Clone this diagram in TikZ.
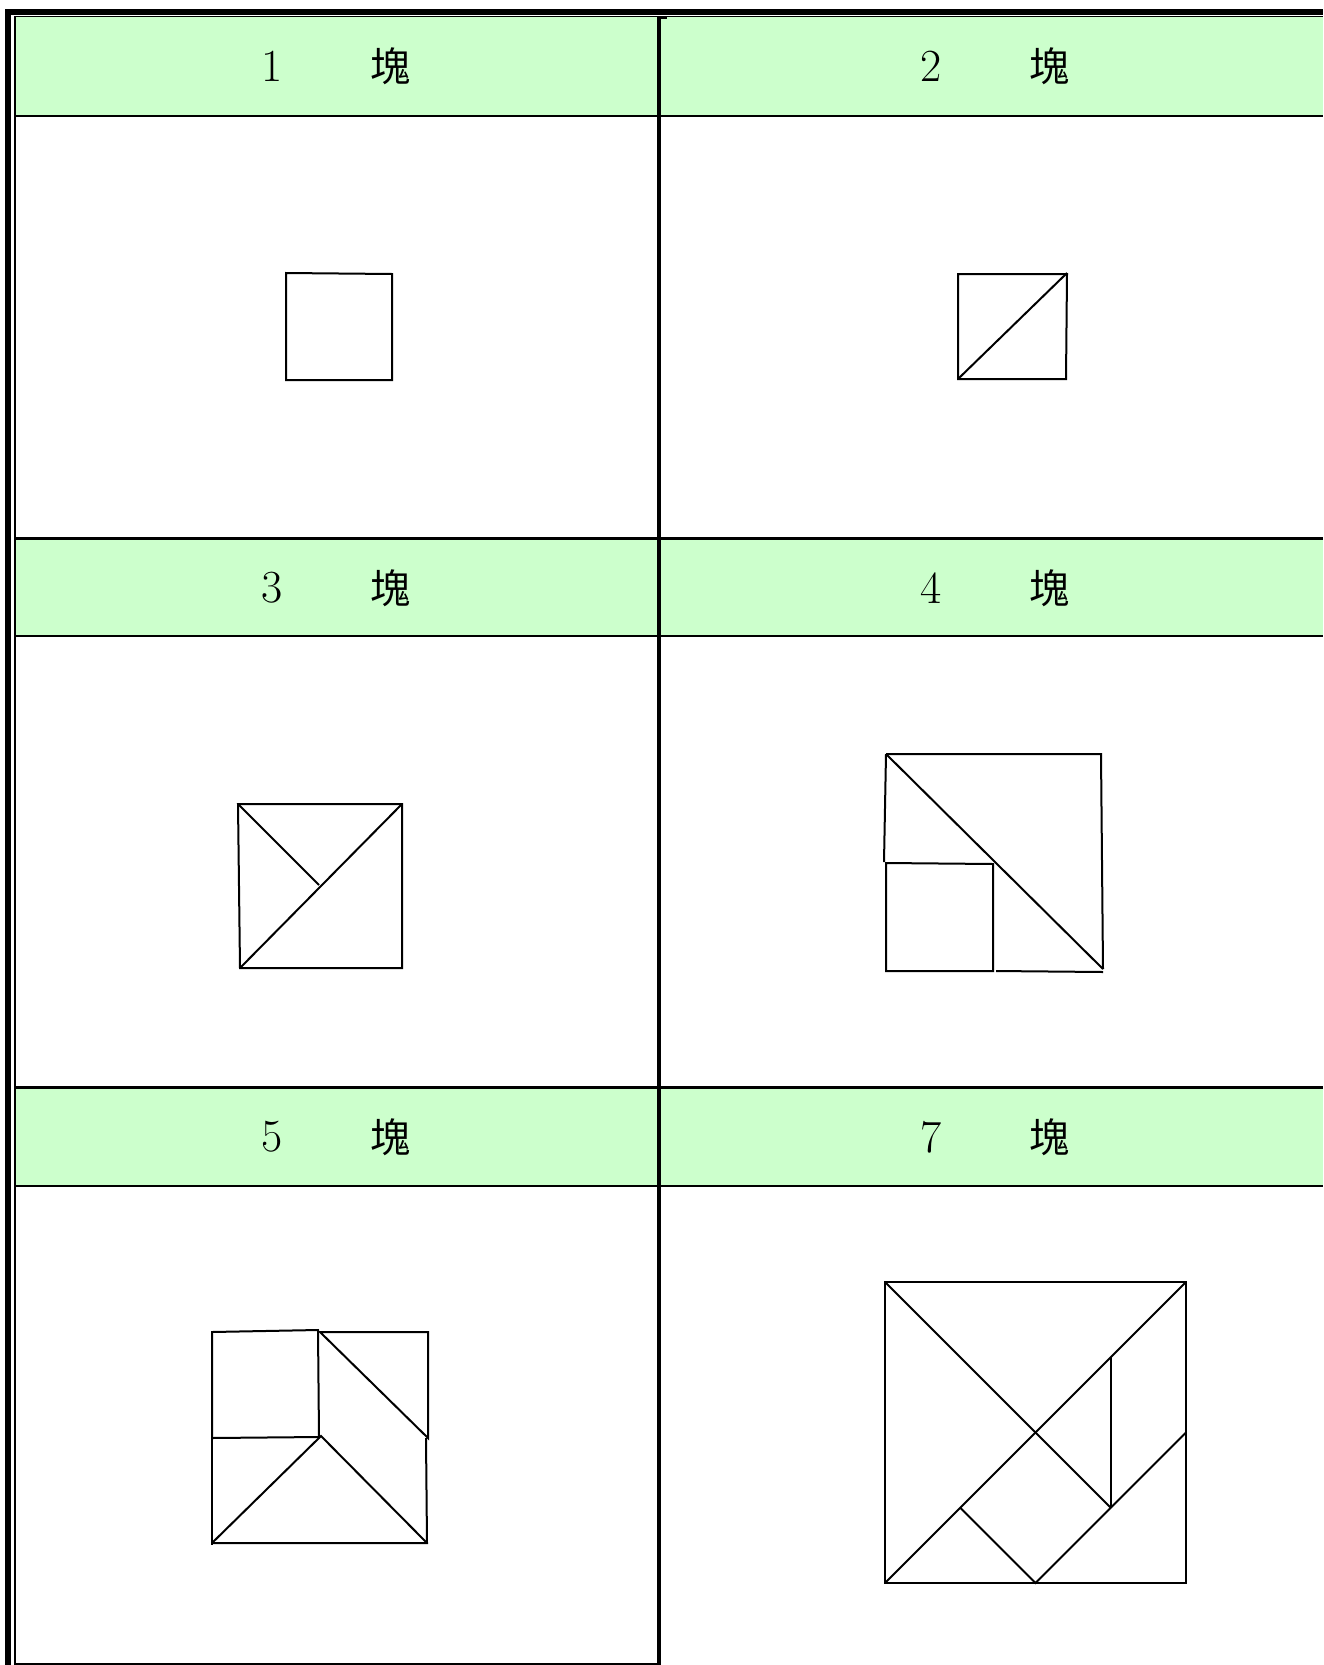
\documentclass[tikz,border=0pt]{standalone}
\usepackage{fontspec}
\newfontfamily\cjk{Noto Sans CJK TC}
\definecolor{headgreen}{RGB}{204,255,204}
\usetikzlibrary{calc}

\begin{document}
\begin{tikzpicture}[x=1pt,y=-1pt, line cap=butt, line join=miter,
  piece/.style={line width=2pt},
  numtext/.style={inner sep=0pt, font=\fontsize{46}{50}\selectfont},
  kuaitext/.style={inner sep=0pt, font=\cjk\fontsize{40}{44}\selectfont}]
  \useasboundingbox (0,0) rectangle (1323,1665);
  % header fills
  \fill[headgreen] (15,17) rectangle (1323,115);
  \fill[headgreen] (15,540) rectangle (1323,635);
  \fill[headgreen] (15,1089) rectangle (1323,1185);
  % frame
  \draw[line width=6pt] (5,12) -- (1323,12);
  \draw[line width=6pt] (8,9) -- (8,1665);
  \draw[line width=1.5pt] (14,16.5) -- (1323,16.5);
  \draw[line width=2pt] (15,16) -- (15,1665);
  \draw[line width=2pt] (15,1663.5) -- (659,1663.5);
  \draw[line width=4pt] (659,17) -- (659,1665);
  \draw[line width=1.5pt] (659,18) -- (667,18);
  \foreach \yy in {116,636,1186}
    \draw[line width=2.5pt] (15,\yy) -- (1323,\yy);
  \foreach \yy in {538.5,1087.5}
    \draw[line width=3pt] (15,\yy) -- (1323,\yy);
  % headers
  \foreach \n/\cx/\cy in {1/272/66, 2/931/66, 3/272/588, 4/931/588, 5/272/1137, 7/931/1137} {
    \node[numtext] (num\n) at (\cx,\cy) {\n};
    \node[kuaitext] (kuai\n) at ($(\cx,\cy)+(118,0)$) {塊};
  }
  % 1 piece
  \draw[piece] (286,273) -- (392,274) -- (392,380) -- (286,380) -- cycle;
  % 2 pieces
  \draw[piece] (958,274) -- (1067,274) -- (1066,379) -- (958,379) -- cycle;
  \draw[piece] (958,379) -- (1067,273);
  % 3 pieces
  \coordinate (C3) at (319,885);
  \draw[piece] (238,804) -- (402,804) -- (402,968) -- (240,968) -- cycle;
  \draw[piece] (240,968) -- (402,804);
  \draw[piece] (238,804) -- (C3);
  % 4 pieces
  \draw[piece] (886,754) -- (1101,754) -- (1103,969);
  \draw[piece] (886,754) -- (1103,969);
  \draw[piece] (886,754) -- (884,862);
  \draw[piece] (886,863) -- (993,864) -- (993,971) -- (886,971) -- cycle;
  \draw[piece] (996,971) -- (1103,972);
  % 5 pieces
  \coordinate (A5) at (321,1436);
  \draw[piece] (212,1332) -- (318,1330) -- (319,1437) -- (212,1438) -- cycle;
  \draw[piece] (320,1332) -- (428,1332) -- (428,1438) -- cycle;
  \draw[piece] (212,1438) -- (212,1545);
  \draw[piece] (212,1543) -- (427,1543) -- (426,1438);
  \draw[piece] (212,1543) -- (A5) -- (427,1543);
  % 7 pieces
  \coordinate (S00) at (885,1583);
  \coordinate (S40) at (1186,1583);
  \coordinate (S44) at (1186,1282);
  \coordinate (S04) at (885,1282);
  \coordinate (S22) at (1035.5,1432.5);
  \coordinate (S31) at (1110.75,1507.75);
  \coordinate (S33) at (1110.75,1357.25);
  \coordinate (S42) at (1186,1432.5);
  \coordinate (S20) at (1035.5,1583);
  \coordinate (S11) at (960.25,1507.75);
  \draw[piece] (S00) -- (S40) -- (S44) -- (S04) -- cycle;
  \draw[piece] (S00) -- (S44);
  \draw[piece] (S04) -- (S22) -- (S31);
  \draw[piece] (S33) -- (S31);
  \draw[piece] (S42) -- (S20) -- (S11);
\end{tikzpicture}
\end{document}
